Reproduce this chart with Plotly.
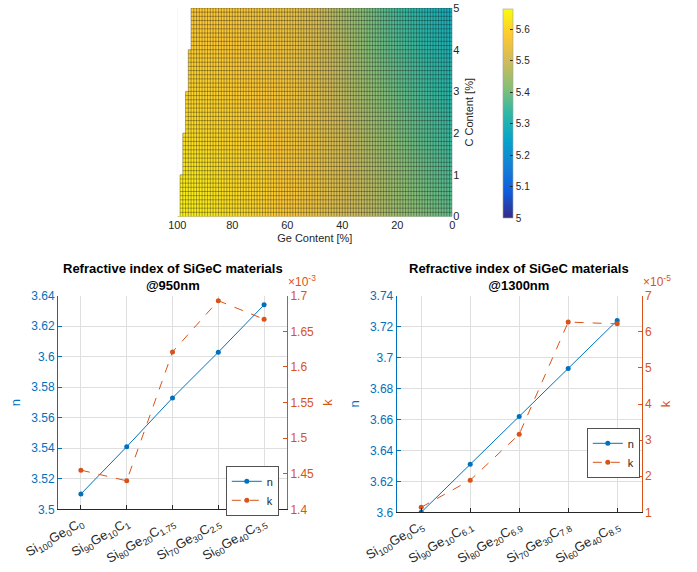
import numpy as np
import plotly.graph_objects as go

# ---------------- data: top surface (coarse table) ----------------
ge_levels = [0, 10, 20, 30, 40, 50, 60, 70, 80, 90, 100]
c_levels = [0, 1, 2, 3, 4, 5]
z_c0 = [5.38, 5.41, 5.44, 5.48, 5.51, 5.55, 5.58, 5.60, 5.62, 5.64, 5.65]
z_c1 = [5.36, 5.39, 5.43, 5.47, 5.51, 5.55, 5.58, 5.60, 5.61, 5.63, 5.64]
z_c2 = [5.34, 5.37, 5.41, 5.45, 5.50, 5.54, 5.57, 5.59, 5.60, 5.61, 5.62]
z_c3 = [5.32, 5.35, 5.39, 5.43, 5.48, 5.53, 5.57, 5.58, 5.59, 5.60, 5.60]
z_c4 = [5.30, 5.33, 5.37, 5.41, 5.47, 5.52, 5.56, 5.57, 5.58, 5.59, 5.59]
z_c5 = [5.28, 5.31, 5.35, 5.40, 5.45, 5.51, 5.55, 5.56, 5.57, 5.58, 5.58]
mesh_ge = np.arange(0, 101, 1)          # mesh of the surface (Ge step 1 %)
mesh_c = np.round(np.arange(0, 5.001, 0.1), 1)  # mesh of the surface (C step 0.1 %)
cbar_ticks = [5, 5.1, 5.2, 5.3, 5.4, 5.5, 5.6]

# ---------------- data: line charts ----------------
labels_950 = ["Si<sub>100</sub>Ge<sub>0</sub>C<sub>0</sub>",
              "Si<sub>90</sub>Ge<sub>10</sub>C<sub>1</sub>",
              "Si<sub>80</sub>Ge<sub>20</sub>C<sub>1.75</sub>",
              "Si<sub>70</sub>Ge<sub>30</sub>C<sub>2.5</sub>",
              "Si<sub>60</sub>Ge<sub>40</sub>C<sub>3.5</sub>"]
n_950 = [3.510, 3.541, 3.573, 3.603, 3.634]
k_950_e3 = [1.455, 1.440, 1.621, 1.693, 1.667]   # x 1e-3

labels_1300 = ["Si<sub>100</sub>Ge<sub>0</sub>C<sub>5</sub>",
               "Si<sub>90</sub>Ge<sub>10</sub>C<sub>6.1</sub>",
               "Si<sub>80</sub>Ge<sub>20</sub>C<sub>6.9</sub>",
               "Si<sub>70</sub>Ge<sub>30</sub>C<sub>7.8</sub>",
               "Si<sub>60</sub>Ge<sub>40</sub>C<sub>8.5</sub>"]
n_1300 = [3.600, 3.631, 3.662, 3.693, 3.724]
k_1300_e5 = [1.14, 1.89, 3.16, 6.27, 6.22]        # x 1e-5

BLUE = "#0072BD"
ORANGE = "#D95319"
DARK = "#262626"
GRID = "#DFDFDF"
FONT = "Liberation Sans, Arial, sans-serif"

parula = [[0.0, "#352a87"], [0.125, "#0f5cdd"], [0.25, "#1481d6"], [0.375, "#06a4ca"],
          [0.5, "#2eb7a4"], [0.625, "#87bf77"], [0.75, "#d1bb59"], [0.875, "#fec832"],
          [1.0, "#f9fb0e"]]

W, H = 697, 572
def px(x): return x / W
def py(y): return 1 - y / H

fig = go.Figure()

# ---- top surface ----
fig.add_trace(go.Heatmap(
    x=ge_levels, y=c_levels, z=[z_c0, z_c1, z_c2, z_c3, z_c4, z_c5],
    zsmooth="best", colorscale=parula, zmin=5, zmax=5.665,
    xaxis="x", yaxis="y", hoverinfo="skip",
    colorbar=dict(x=px(503), xanchor="left", y=py(9), yanchor="top",
                  len=(218 - 9) / H, lenmode="fraction", thickness=10,
                  thicknessmode="pixels", outlinewidth=0.6, outlinecolor="#A0A0A0",
                  tickvals=cbar_ticks, ticks="inside", ticklen=3, tickcolor=DARK,
                  tickfont=dict(size=10, color=DARK, family=FONT), xpad=0, ypad=0)))

# region outside Ge + C <= 100 (staircase edge of the surface)
steps = np.arange(1, 6)
edge_x, edge_y = [], []
for s in steps:
    edge_x += [100 - s, 100 - s]
    edge_y += [s - 1, s]
edge_x += [102, 102]
edge_y += [5, 0]
fig.add_trace(go.Scatter(x=edge_x, y=edge_y, fill="toself", fillcolor="white",
                         line=dict(width=0), mode="lines", xaxis="x", yaxis="y",
                         hoverinfo="skip", showlegend=False))

# mesh lines
mx, my = [], []
for g in mesh_ge:
    top = min(5.0, 100 - g)
    if top > 0:
        mx += [g, g, None]
        my += [0, top, None]
for c in mesh_c:
    right = np.floor(100 - c + 1e-9)
    mx += [0, right, None]
    my += [c, c, None]
fig.add_trace(go.Scatter(x=mx, y=my, mode="lines", line=dict(color="rgba(20,20,20,0.5)", width=0.7),
                         xaxis="x", yaxis="y", hoverinfo="skip", showlegend=False))

# ---- bottom left ----
fig.add_trace(go.Scatter(x=labels_950, y=n_950, mode="lines+markers", name="n",
                         line=dict(color=BLUE, width=1), marker=dict(size=5, color=BLUE),
                         xaxis="x2", yaxis="y2", legend="legend"))
fig.add_trace(go.Scatter(x=labels_950, y=k_950_e3, mode="lines+markers", name="k",
                         line=dict(color=ORANGE, width=1, dash="dash"), marker=dict(size=5, color=ORANGE),
                         xaxis="x2", yaxis="y3", legend="legend"))
# ---- bottom right ----
fig.add_trace(go.Scatter(x=labels_1300, y=n_1300, mode="lines+markers", name="n",
                         line=dict(color=BLUE, width=1), marker=dict(size=5, color=BLUE),
                         xaxis="x3", yaxis="y4", legend="legend2"))
fig.add_trace(go.Scatter(x=labels_1300, y=k_1300_e5, mode="lines+markers", name="k",
                         line=dict(color=ORANGE, width=1, dash="dash"), marker=dict(size=5, color=ORANGE),
                         xaxis="x3", yaxis="y5", legend="legend2"))

tickf = dict(size=12, family=FONT)

def cat_x(domain, anchor):
    return dict(domain=domain, anchor=anchor, type="category", range=[-0.5, 4.5],
                showgrid=True, gridcolor=GRID, gridwidth=1, showline=True, linecolor=DARK,
                linewidth=1, ticks="inside", ticklen=4, tickcolor=DARK, tickangle=-30,
                tickfont=dict(size=13, family=FONT, color=DARK), zeroline=False, mirror=False)

def left_y(domain, anchor, rng, dt):
    return dict(domain=domain, anchor=anchor, range=rng, dtick=dt, tick0=rng[0],
                showgrid=True, gridcolor=GRID, showline=True, linecolor=BLUE, linewidth=1,
                ticks="inside", ticklen=4, tickcolor=BLUE, tickfont=dict(tickf, color=BLUE),
                title=dict(text="n", font=dict(size=13, color=BLUE, family=FONT), standoff=7),
                zeroline=False)

def right_y(over, anchor, rng, dt):
    return dict(overlaying=over, anchor=anchor, side="right", range=rng, dtick=dt, tick0=rng[0],
                showgrid=False, showline=True, linecolor=ORANGE, linewidth=1,
                ticks="inside", ticklen=4, tickcolor=ORANGE, tickfont=dict(tickf, color=ORANGE),
                title=dict(text="k", font=dict(size=13, color=ORANGE, family=FONT), standoff=9),
                zeroline=False)

dom_l = [px(58), px(287)]
dom_r = [px(396.7), px(641.7)]
ydom_l = [py(509.3), py(295.7)]
ydom_r = [py(512.3), py(295.7)]

legend_common = dict(bgcolor="white", bordercolor=DARK, borderwidth=0.8,
                     font=dict(size=11, family=FONT, color=DARK), itemwidth=30,
                     tracegroupgap=0, xanchor="right", yanchor="top")

fig.update_layout(
    width=W, height=H, margin=dict(l=0, r=0, t=0, b=0, autoexpand=False),
    paper_bgcolor="white", plot_bgcolor="white",
    font=dict(family=FONT, color=DARK),
    xaxis=dict(domain=[px(177.3), px(452.3)], anchor="y", range=[100, 0],
               tickvals=[0, 20, 40, 60, 80, 100], showgrid=False, zeroline=False,
               showline=False, ticks="", tickfont=dict(size=11, family=FONT, color=DARK),
               title=dict(text="Ge Content [%]", font=dict(size=11, family=FONT, color=DARK), standoff=4)),
    yaxis=dict(domain=[py(216.5), py(8)], anchor="x", side="right", range=[0, 5], dtick=1,
               showgrid=False, zeroline=False, showline=False, ticks="",
               tickfont=dict(size=11, family=FONT, color=DARK),
               title=dict(text="C Content [%]", font=dict(size=11, family=FONT, color=DARK), standoff=6)),
    xaxis2=cat_x(dom_l, "y2"),
    yaxis2=left_y(ydom_l, "x2", [3.5, 3.64], 0.02),
    yaxis3=right_y("y2", "x2", [1.4, 1.7], 0.05),
    xaxis3=cat_x(dom_r, "y4"),
    yaxis4=left_y(ydom_r, "x3", [3.6, 3.74], 0.02),
    yaxis5=right_y("y4", "x3", [1, 7], 1),
    legend=dict(legend_common, x=px(279), y=py(466)),
    legend2=dict(legend_common, x=px(640), y=py(428)),
    showlegend=True,
)

title_font = dict(size=13, family=FONT, color="black")
fig.add_annotation(text="<b>Refractive index of SiGeC materials</b><br><b>@950nm</b>",
                   x=px(172.5), y=py(277), xref="paper", yref="paper", showarrow=False,
                   xanchor="center", yanchor="middle", font=title_font)
fig.add_annotation(text="<b>Refractive index of SiGeC materials</b><br><b>@1300nm</b>",
                   x=px(519.2), y=py(277), xref="paper", yref="paper", showarrow=False,
                   xanchor="center", yanchor="middle", font=title_font)
fig.add_annotation(text="×10<sup>-3</sup>", x=px(286), y=py(291), xref="paper", yref="paper",
                   showarrow=False, xanchor="left", yanchor="bottom",
                   font=dict(size=12, family=FONT, color=ORANGE))
fig.add_annotation(text="×10<sup>-5</sup>", x=px(641), y=py(291), xref="paper", yref="paper",
                   showarrow=False, xanchor="left", yanchor="bottom",
                   font=dict(size=12, family=FONT, color=ORANGE))

fig.write_html("out.html")
